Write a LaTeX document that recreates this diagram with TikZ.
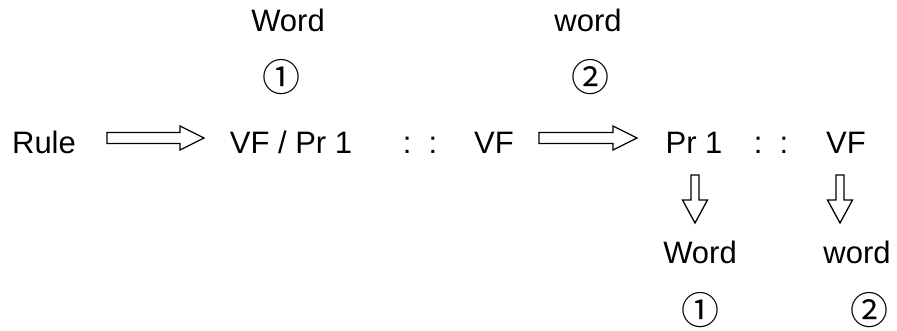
\documentclass[tikz,border=0pt]{standalone}
\usepackage{fontspec}
\setmainfont{Liberation Sans}
\newfontfamily\circfont{Noto Sans CJK SC}
\begin{document}
\begin{tikzpicture}[x=1pt,y=-1pt,
  lbl/.style={inner sep=0pt,anchor=base,font=\fontsize{31}{36}\selectfont},
  circ/.style={inner sep=0pt,anchor=center,font=\circfont\fontsize{38}{44}\selectfont},
  blk/.style={draw=black,line width=1.3pt,fill=white,line join=miter}]
\useasboundingbox (0,0) rectangle (897,330);
% main row
\node[lbl] (rule) at (44,153) {Rule};
\node[lbl] (vfpr) at (291,153) {VF / Pr 1};
\node[lbl] (c1) at (420,153) {:\ \ :};
\node[lbl] (vf1) at (494,153) {VF};
\node[lbl] (pr1) at (694,153) {Pr 1};
\node[lbl] (c2) at (771,153) {:\ \ :};
\node[lbl] (vf2) at (846,153) {VF};
% top labels
\node[lbl] (w1) at (288,31) {Word};
\node[lbl] (w2) at (588,31) {word};
\node[circ] (n1) at (281.5,77) {①};
\node[circ] (n2) at (590,77) {②};
% bottom labels
\node[lbl] (w3) at (700,263) {Word};
\node[lbl] (w4) at (857,263) {word};
\node[circ] (n3) at (700,310) {①};
\node[circ] (n4) at (869,310) {②};
% horizontal block arrows
\draw[blk] (107,132.5) -- (180,132.5) -- (180,126) -- (204,138) -- (180,150) -- (180,143.5) -- (107,143.5) -- cycle;
\draw[blk] (539,132.5) -- (613,132.5) -- (613,126) -- (637,138) -- (613,150) -- (613,143.5) -- (539,143.5) -- cycle;
% vertical block arrows
\draw[blk] (691,175) -- (699,175) -- (699,200) -- (707.5,200) -- (695,223) -- (682.5,200) -- (691,200) -- cycle;
\draw[blk] (836,175) -- (844,175) -- (844,200) -- (852.5,200) -- (840,223) -- (827.5,200) -- (836,200) -- cycle;
\end{tikzpicture}
\end{document}
